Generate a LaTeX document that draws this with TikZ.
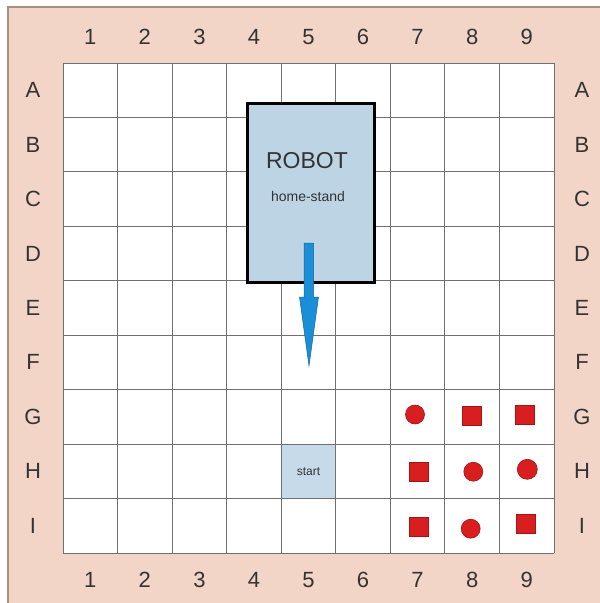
\documentclass[tikz,border=0pt]{standalone}
\usepackage{fontspec}
\setmainfont{Liberation Sans}
\definecolor{peach}{HTML}{F2D5C6}
\definecolor{edgebrown}{HTML}{A89080}
\definecolor{gridgray}{HTML}{707070}
\definecolor{boxblue}{HTML}{BDD4E4}
\definecolor{startblue}{HTML}{C6DAEA}
\definecolor{arrowblue}{HTML}{1A8FD8}
\definecolor{arrowedge}{HTML}{1466A8}
\definecolor{tokred}{HTML}{D81E1E}
\definecolor{tokedge}{HTML}{9E1616}
\definecolor{labelgray}{HTML}{333333}
\begin{document}
\begin{tikzpicture}[x=1pt,y=-1pt,
  lbl/.style={text=labelgray,font=\fontsize{22}{24}\selectfont,inner sep=0pt},
  gridline/.style={draw=gridgray,line width=0.9pt},
  tokcircle/.style={circle,fill=tokred,draw=tokedge,line width=0.6pt,minimum size=19pt,inner sep=0pt},
  toksquare/.style={rectangle,fill=tokred,draw=tokedge,line width=0.6pt,minimum size=19pt,inner sep=0pt}]
\useasboundingbox (0,0) rectangle (600,603);
\fill[white] (0,0) rectangle (600,603);
\fill[peach] (8,7) rectangle (600,603);
\draw[edgebrown,line width=1.2pt] (8,603) -- (8,7) -- (600,7);
% grid
\fill[white] (63,63) rectangle (554,553);
\node[fill=startblue,inner sep=0pt,minimum width=54.5pt,minimum height=54.4pt,anchor=north west,text=labelgray,font=\fontsize{12}{13}\selectfont] (start) at (281,444.2) {start};
\foreach \i in {0,...,9}{
  \draw[gridline] ({63+54.55*\i},63) -- ({63+54.55*\i},553);
  \draw[gridline] (63,{63+54.44*\i}) -- (554,{63+54.44*\i});
}
% labels
\foreach \n [count=\j from 0] in {1,...,9}{
  \node[lbl] (top\n) at ({63+54.55*(\j+0.5)},37) {\n};
  \node[lbl] (bot\n) at ({63+54.55*(\j+0.5)},580) {\n};
}
\foreach \L [count=\i from 0] in {A,B,C,D,E,F,G,H,I}{
  \node[lbl] (left\L) at (33,{63+54.44*(\i+0.5)}) {\L};
  \node[lbl] (right\L) at (582,{63+54.44*(\i+0.5)}) {\L};
}
% robot home-stand
\node[draw=black,line width=3pt,fill=boxblue,minimum width=127pt,minimum height=179pt,anchor=north west,inner sep=0pt] (robot) at (245.5,101.5) {};
\node[text=labelgray,font=\fontsize{23}{25}\selectfont,inner sep=0pt] (robotlbl) at (307,161) {ROBOT};
\node[text=labelgray,font=\fontsize{14}{16}\selectfont,inner sep=0pt] (homelbl) at (308,196) {home-stand};
% arrow
\filldraw[fill=arrowblue,draw=arrowedge,line width=0.5pt] (304,243) -- (313.5,243) -- (313.5,297) -- (318.5,297) -- (309,366) -- (299.5,297) -- (304,297) -- cycle;
% tokens
\node[tokcircle] (g7) at (415,414.5) {};
\node[toksquare] (g8) at (472,416) {};
\node[toksquare] (g9) at (525,414.7) {};
\node[toksquare] (h7) at (418.3,471.3) {};
\node[tokcircle] (h8) at (473.3,471.7) {};
\node[tokcircle,minimum size=20pt] (h9) at (527.3,469.3) {};
\node[toksquare] (i7) at (418.3,527) {};
\node[tokcircle] (i8) at (470.7,528.7) {};
\node[toksquare] (i9) at (526,523.3) {};
\end{tikzpicture}
\end{document}
